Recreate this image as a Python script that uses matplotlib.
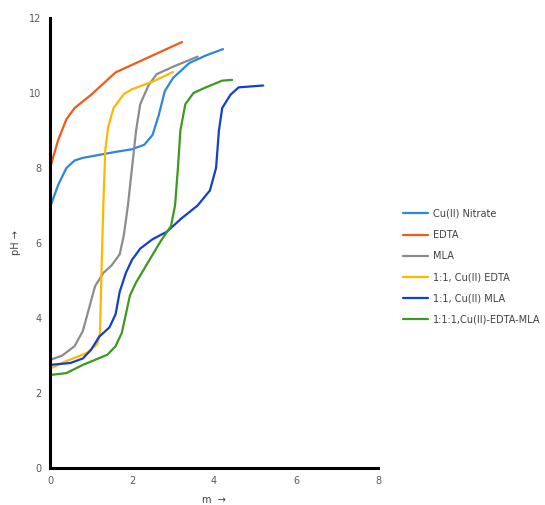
import matplotlib
matplotlib.use("Agg")
import matplotlib.pyplot as plt

# Cu(II) Nitrate
nit_x = [0, 0.2, 0.4, 0.6, 0.8, 1.2, 1.6, 2.0, 2.3, 2.5, 2.65, 2.8, 3.0, 3.4, 3.8, 4.22]
nit_y = [6.95, 7.55, 8.0, 8.2, 8.27, 8.35, 8.43, 8.5, 8.62, 8.88, 9.4, 10.05, 10.4, 10.8, 11.0, 11.17]
# EDTA
edta_x = [0, 0.2, 0.4, 0.6, 1.0, 1.6, 2.0, 2.6, 3.22]
edta_y = [8.0, 8.75, 9.3, 9.6, 9.95, 10.55, 10.75, 11.05, 11.36]
# MLA
mla_x = [0, 0.3, 0.6, 0.8, 0.95, 1.1, 1.3, 1.5, 1.7, 1.8, 1.9, 2.0, 2.1, 2.2, 2.4, 2.6, 3.0, 3.6]
mla_y = [2.88, 3.0, 3.25, 3.65, 4.25, 4.85, 5.2, 5.4, 5.7, 6.2, 7.0, 8.0, 9.0, 9.7, 10.2, 10.5, 10.7, 10.97]
# 1:1, Cu(II) EDTA
cue_x = [0, 0.4, 0.9, 1.15, 1.22, 1.25, 1.3, 1.35, 1.42, 1.55, 1.8, 2.0, 2.5, 3.0]
cue_y = [2.65, 2.85, 3.07, 3.3, 3.6, 5.0, 7.0, 8.5, 9.1, 9.6, 9.97, 10.1, 10.3, 10.56]
# 1:1, Cu(II) MLA
cum_x = [0, 0.5, 0.8, 1.0, 1.2, 1.45, 1.6, 1.7, 1.85, 2.0, 2.2, 2.5, 2.85, 3.2, 3.6, 3.9, 4.05, 4.12, 4.2, 4.4, 4.6, 5.2]
cum_y = [2.75, 2.8, 2.92, 3.15, 3.5, 3.75, 4.1, 4.7, 5.2, 5.55, 5.85, 6.1, 6.3, 6.65, 7.0, 7.4, 8.0, 9.0, 9.6, 9.95, 10.15, 10.2]
# 1:1:1, Cu(II)-EDTA-MLA
mix_x = [0, 0.4, 0.8, 1.2, 1.4, 1.6, 1.75, 1.85, 1.95, 2.1, 2.4, 2.7, 2.95, 3.05, 3.12, 3.18, 3.3, 3.5, 3.8, 4.2, 4.44]
mix_y = [2.48, 2.53, 2.75, 2.93, 3.02, 3.25, 3.6, 4.1, 4.6, 4.95, 5.5, 6.05, 6.45, 7.0, 8.0, 9.0, 9.7, 10.0, 10.15, 10.33, 10.35]

series = [
    ("Cu(II) Nitrate", nit_x, nit_y, "#2E86DE"),
    ("EDTA", edta_x, edta_y, "#F25A1A"),
    ("MLA", mla_x, mla_y, "#8C8C8C"),
    ("1:1, Cu(II) EDTA", cue_x, cue_y, "#FFB800"),
    ("1:1, Cu(II) MLA", cum_x, cum_y, "#1440C8"),
    ("1:1:1,Cu(II)-EDTA-MLA", mix_x, mix_y, "#3C9A1E"),
]

fig = plt.figure(figsize=(5.45, 5.05), dpi=100)
ax = fig.add_axes([50/545, 1-468/505, (378-50)/545, (468-18)/505])
for name, xs, ys, c in series:
    ax.plot(xs, ys, color=c, lw=1.6, label=name, solid_joinstyle="round", solid_capstyle="round")

ax.set_xlim(0, 8)
ax.set_ylim(0, 12)
ax.set_xticks([0, 2, 4, 6, 8])
ax.set_yticks([0, 2, 4, 6, 8, 10, 12])
ax.tick_params(length=0, labelsize=7, colors="#595959", pad=6)
for s in ["top", "right"]:
    ax.spines[s].set_visible(False)
for s in ["left", "bottom"]:
    ax.spines[s].set_linewidth(2.2)
    ax.spines[s].set_color("black")
ax.set_xlabel("m  →", fontsize=7, color="#404040", labelpad=6)
ax.set_ylabel("pH →", fontsize=7, color="#404040", labelpad=6)

fig.legend(loc="upper left", bbox_to_anchor=(399/545, 1-205/505), frameon=False,
           fontsize=7, labelcolor="#404040", handlelength=2.6, handletextpad=0.5,
           labelspacing=1.15, borderaxespad=0)

fig.savefig("out.png", dpi=100)
